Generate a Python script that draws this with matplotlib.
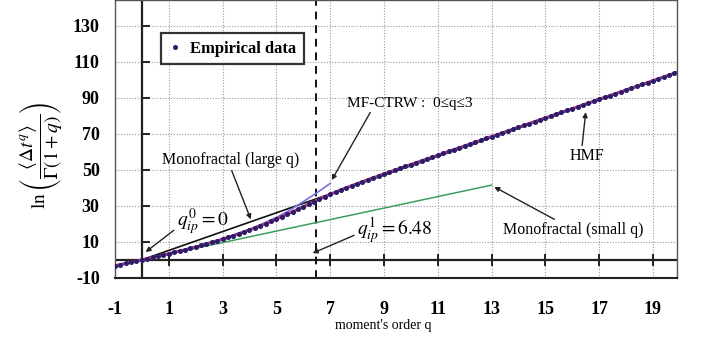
import numpy as np
import matplotlib
matplotlib.use('Agg')
import matplotlib.pyplot as plt

plt.rcParams['font.family'] = ['Liberation Serif', 'DejaVu Serif']
plt.rcParams['mathtext.fontset'] = 'stix'

#%% data
q_start, q_step = -1.0, 0.2
emp_y = [-3.30, -2.64, -1.98, -1.32, -0.66, 0.00, 0.67, 1.35, 2.03, 2.72,
         3.42, 4.13, 4.86, 5.61, 6.38, 7.17, 7.98, 8.82, 9.69, 10.59,
         11.52, 12.48, 13.47, 14.49, 15.54, 16.63, 17.75, 18.91, 20.11, 21.35,
         22.63, 23.94, 25.28, 26.65, 28.04, 29.45, 30.87, 32.29, 33.69, 35.05,
         36.36, 37.62, 38.84, 40.02, 41.17, 42.29, 43.39, 44.48, 45.56, 46.63,
         47.69, 48.75, 49.80, 50.84, 51.88, 52.92, 53.96, 54.99, 56.03, 57.06,
         58.10, 59.13, 60.17, 61.20, 62.24, 63.27, 64.31, 65.34, 66.38, 67.41,
         68.45, 69.48, 70.52, 71.55, 72.59, 73.62, 74.66, 75.69, 76.73, 77.76,
         78.80, 79.83, 80.87, 81.90, 82.94, 83.97, 85.01, 86.04, 87.08, 88.11,
         89.15, 90.18, 91.22, 92.25, 93.29, 94.32, 95.36, 96.39, 97.43, 98.46,
         99.50, 100.53, 101.57, 102.60, 103.64, 104.67]
emp_q = q_start + q_step * np.arange(len(emp_y))

large_q = [0, 20]
large_y = [0, 104.5]
small_q = [0, 13]
small_y = [0, 41.5]
ctrw_q = [0, 1, 2, 3, 4, 5, 5.5, 6, 6.5, 7]
ctrw_y = [0, 3.4, 7.2, 11.5, 16.8, 23.5, 27.6, 32.3, 37.2, 42.4]
q_ip1 = 6.48

x_ticks = [-1, 1, 3, 5, 7, 9, 11, 13, 15, 17, 19]
y_ticks = [-10, 10, 30, 50, 70, 90, 110, 130]

#%% figure
fig = plt.figure(figsize=(7.01, 3.38), dpi=100)
ax = fig.add_axes([0.164, 0.178, 0.802, 0.822])
ax.set_xlim(-1, 19.9)
ax.set_ylim(-10, 144.3)

ax.set_xticks(x_ticks)
ax.set_yticks(y_ticks)
ax.set_xticklabels([str(t) for t in x_ticks], fontweight='bold', fontsize=13)
ax.set_yticklabels([str(t) for t in y_ticks], fontweight='bold', fontsize=13)
ax.tick_params(axis='x', length=0, pad=16.5)
ax.tick_params(axis='y', length=0, pad=11)
ax.grid(True, linestyle=(0, (1, 1.5)), color='#9a9a9a', linewidth=0.8)
for s in ax.spines.values():
    s.set_color('#555555')
    s.set_linewidth(1.0)
ax.spines['bottom'].set_color('#222222')
ax.spines['bottom'].set_linewidth(1.5)

# axes crossing at zero, with their own tick marks
ax.axhline(0, color='#222222', lw=1.6, zorder=2)
ax.axvline(0, color='#222222', lw=1.6, zorder=2)
ax.plot(x_ticks[1:], np.zeros(len(x_ticks) - 1), ls='none', marker='|',
        ms=9, mew=1.4, color='#222222', zorder=2, clip_on=False)
ax.plot(np.zeros(len(y_ticks) - 1), y_ticks[1:], ls='none', marker=1,
        ms=6, mew=1.4, color='#222222', zorder=2)
ax.axvline(q_ip1, color='#111111', lw=1.4, ls=(0, (4, 3)), zorder=2)

# model curves
ax.plot(small_q, small_y, color='#3a9e5c', lw=1.1, zorder=3)
ax.plot(large_q, large_y, color='#111111', lw=1.2, zorder=3)
ax.plot(ctrw_q, ctrw_y, color='#7a70e0', lw=1.2, zorder=3)
ax.plot(emp_q, emp_y, color='#b0367f', lw=2.2, zorder=4)
ax.plot(emp_q, emp_y, ls='none', marker='o', ms=2.6, color='#2b1d6b',
        zorder=5, label='Empirical data')

leg = ax.legend(loc='upper left', bbox_to_anchor=(0.082, 0.881), borderaxespad=0,
                frameon=True, fancybox=False, handlelength=0.8, handletextpad=0.5,
                prop={'weight': 'bold', 'size': 12}, borderpad=0.45)
leg.get_frame().set_edgecolor('black')
leg.get_frame().set_linewidth(1.6)

arw = dict(arrowstyle='-|>', color='#222222', lw=1.0, mutation_scale=7,
           shrinkA=0, shrinkB=0)
ax.annotate(r'$q_{ip}^{0}=0$', xy=(0.14, 4.3), xytext=(2.25, 21), fontsize=14,
            ha='center', va='center', arrowprops=dict(arw, relpos=(0, 0.3)))
ax.annotate(r'$q_{ip}^{1}=6.48$', xy=(6.35, 3.7), xytext=(9.4, 16), fontsize=14,
            ha='center', va='center', arrowprops=dict(arw, relpos=(0, 0.4)))
ax.annotate('Monofractal (large q)', xy=(4.05, 22.5), xytext=(3.3, 55.5),
            fontsize=11.5, ha='center', va='center',
            arrowprops=dict(arw, relpos=(0.5, 0)))
ax.annotate(u'MF-CTRW :  0\u2264q\u22643', xy=(7.06, 44.3), xytext=(9.95, 87),
            fontsize=11, ha='center', va='center',
            arrowprops=dict(arw, relpos=(0.2, 0)))
ax.annotate('HMF', xy=(16.5, 82), xytext=(16.55, 57.5), fontsize=11.5,
            ha='center', va='center', arrowprops=dict(arw, relpos=(0.35, 1)))
ax.annotate('Monofractal (small q)', xy=(13.1, 40.5), xytext=(16.05, 16.5),
            fontsize=11.5, ha='center', va='center',
            arrowprops=dict(arw, relpos=(0.4, 1)))

fig.text(383 / 701, 1 - 326 / 338, "moment's order q", fontsize=10,
         ha='center', va='center')
fig.text(40 / 701, 1 - 155 / 338,
         r'$\ln\left(\dfrac{\left\langle \Delta t^{q}\right\rangle}{\Gamma(1+q)}\right)$',
         fontsize=14, rotation=90, ha='center', va='center')

fig.savefig('out.png', dpi=100)
